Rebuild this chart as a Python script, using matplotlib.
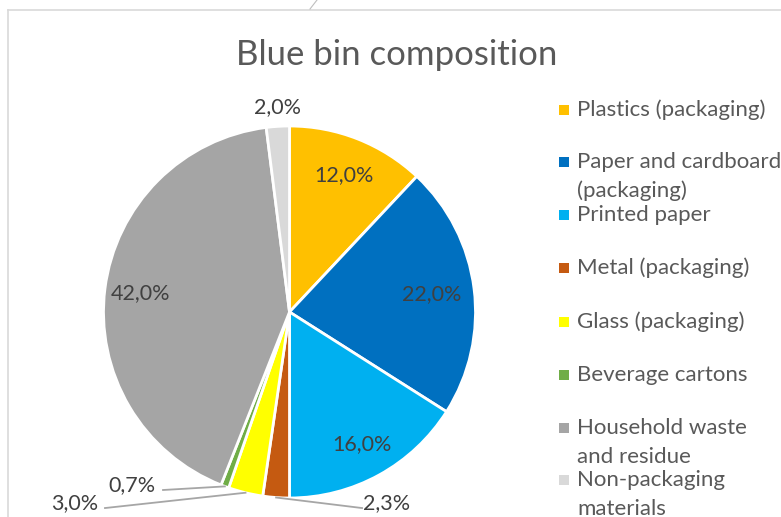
import matplotlib
matplotlib.use("Agg")
import matplotlib.pyplot as plt
import numpy as np
from matplotlib.lines import Line2D
from matplotlib.patches import Rectangle

categories = ["Plastics (packaging)", "Paper and cardboard\n(packaging)", "Printed paper",
              "Metal (packaging)", "Glass (packaging)", "Beverage cartons",
              "Household waste\nand residue", "Non-packaging\nmaterials"]
values = [12.0, 22.0, 16.0, 2.3, 3.0, 0.7, 42.0, 2.0]
colors = ["#FFC000", "#0070C0", "#00B0F0", "#C55A11", "#FFFF00", "#70AD47", "#A5A5A5", "#D9D9D9"]
title = "Blue bin composition"

# label placement (layout, in pie-radius units); None -> inside at default distance
label_pos = [None, None, None, (0.524, -1.027), (-1.153, -1.027), (-0.847, -0.930), None, (-0.067, 1.102)]
inside_dist = [0.79, 0.77, 0.81, None, None, None, 0.81, None]
leader_start = [None, None, None, (0.390, -1.054), (-0.992, -1.054), (-0.680, -0.957), None, None]

W, H = 781, 517
fig = plt.figure(figsize=(W / 100, H / 100), dpi=100)
fig.patch.set_facecolor("white")

FONT = ["Lato", "DejaVu Sans"]
TXT = "#595959"
LBL = "#404040"

def fx(x):
    return x / W

def fy(y):
    return 1 - y / H

# chart frame lines
fig.add_artist(Line2D([fx(8), fx(8)], [fy(10), fy(517)], color="#D9D9D9", lw=1.2))
fig.add_artist(Line2D([fx(8), fx(781)], [fy(10), fy(10)], color="#D9D9D9", lw=1.2))
fig.add_artist(Line2D([fx(310), fx(317)], [fy(9), fy(0)], color="#BFBFBF", lw=0.8))

# pie axes
cx, cy, r = 289.5, 312, 186
ax = fig.add_axes([fx(cx - r), fy(cy + r), 2 * r / W, 2 * r / H])
wedges, _ = ax.pie(values, colors=colors, startangle=90, counterclock=False,
                   wedgeprops=dict(edgecolor="white", linewidth=2.0), radius=1.0)
ax.set_xlim(-1, 1)
ax.set_ylim(-1, 1)
ax.set_aspect("auto")
ax.axis("off")

for i, (w, v) in enumerate(zip(wedges, values)):
    mid = np.deg2rad((w.theta1 + w.theta2) / 2)
    txt = f"{v:.1f}".replace(".", ",") + "%"
    if label_pos[i] is None:
        d = inside_dist[i]
        ax.text(d * np.cos(mid), d * np.sin(mid), txt, ha="center", va="center",
                fontsize=15.5, color=LBL, family=FONT, clip_on=False)
    else:
        lx, ly = label_pos[i]
        ax.text(lx, ly, txt, ha="center", va="center", fontsize=15.5, color=LBL,
                family=FONT, clip_on=False)
        if leader_start[i] is not None:
            sx, sy = leader_start[i]
            ax.add_line(Line2D([sx, np.cos(mid)], [sy, np.sin(mid)], color="#A6A6A6",
                               lw=1.3, clip_on=False))

# title
fig.text(fx(396.5), fy(55), title, ha="center", va="center", fontsize=25, color=TXT, family=FONT)

# legend
rows = [110, 162, 215, 268, 322, 375, 428, 480]
line_h = 29
for cat, col, yc in zip(categories, colors, rows):
    fig.add_artist(Rectangle((fx(559), fy(yc + 5)), 10 / W, 10 / H, facecolor=col,
                             edgecolor="none", transform=fig.transFigure))
    for k, line in enumerate(cat.split("\n")):
        fig.text(fx(577), fy(yc + k * line_h), line, ha="left", va="center",
                 fontsize=16, color=TXT, family=FONT)

fig.savefig("out.png", dpi=100, facecolor="white")
